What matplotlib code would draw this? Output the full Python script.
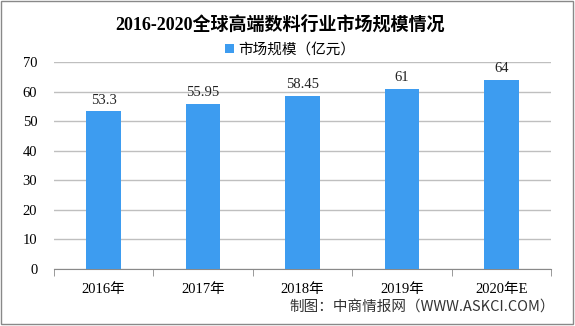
import matplotlib
matplotlib.use('Agg')
import matplotlib.pyplot as plt
import numpy as np
from matplotlib.patches import Rectangle

plt.rcParams['font.family'] = ['Liberation Serif', 'Noto Sans CJK SC', 'DejaVu Sans']

years = ['2016年', '2017年', '2018年', '2019年', '2020年E']
values = [53.3, 55.95, 58.45, 61, 64]
value_labels = ['53.3', '55.95', '58.45', '61', '64']

fig = plt.figure(figsize=(5.75, 3.26), dpi=100)
ax = fig.add_axes([54/575, 1-269/326, (551-54)/575, (269-62)/326])

x = np.arange(len(years))
bars = ax.bar(x, values, width=0.35, color='#3D9CF0', label='市场规模（亿元）', zorder=3)
for xi, v, t in zip(x, values, value_labels):
    ax.text(xi, v + 1.6, t, ha='center', va='bottom', fontsize=10.5, color='#222222')

ax.set_xlim(-0.5, len(years) - 0.5)
ax.set_ylim(0, 70)
ax.set_yticks(range(0, 71, 10))
ax.yaxis.grid(True, color='#BFBFBF', linewidth=1, zorder=0)
ax.set_xticks(x)
ax.set_xticklabels(years, fontsize=10.5)
ax.set_xticks(np.arange(-0.5, len(years)), minor=True)
ax.tick_params(axis='x', which='major', length=0, pad=10)
ax.tick_params(axis='x', which='minor', length=5, color='#898989', direction='out')
ax.tick_params(axis='y', length=0, pad=12, labelsize=10.5)
for s in ['left', 'right', 'top']:
    ax.spines[s].set_visible(False)
ax.spines['bottom'].set_color('#898989')

fig.text(0.487, 1-24/326, '2016-2020全球高端数料行业市场规模情况', ha='center', va='center',
         fontsize=13, fontweight='bold')
fig.legend(loc='center', bbox_to_anchor=(0.505, 1-50/326), frameon=False, fontsize=10.5,
           handlelength=0.6, handleheight=0.6, handletextpad=0.3)
fig.text(555/575, 1-307/326, '制图：中商情报网（WWW.ASKCI.COM）', ha='right', va='center',
         fontsize=10.5, color='#333333', family=['Noto Sans CJK SC', 'DejaVu Sans'])

fig.patches.append(Rectangle((0.002, 0.006), 0.994, 0.99, transform=fig.transFigure,
                             fill=False, edgecolor='#898989', linewidth=1))

fig.savefig('out.png', dpi=100)
